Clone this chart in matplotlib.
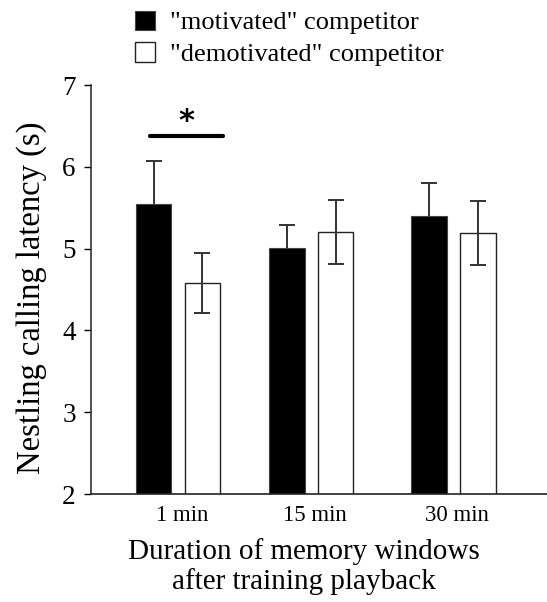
import matplotlib
matplotlib.use('Agg')
import matplotlib.pyplot as plt
import numpy as np

plt.rcParams['font.family'] = ['Liberation Serif', 'DejaVu Serif']

# data
windows = ['1 min', '15 min', '30 min']
motivated = [5.55, 5.01, 5.40]
motivated_se = [0.52, 0.28, 0.40]
demotivated = [4.58, 5.20, 5.19]
demotivated_se = [0.37, 0.39, 0.39]

x = np.array([0, 1, 2.07])
width = 0.27
offset = 0.184

fig = plt.figure(figsize=(5.47, 6.02), dpi=100)
ax = fig.add_axes([0.1664, 0.1794, 0.8336, 0.6794])

err_kw = dict(ecolor='#333333', elinewidth=1.4, capsize=6, capthick=1.4)
# error bars of the black bars sit behind them, so only the upper half shows
ax.errorbar(x - offset, motivated, yerr=motivated_se, fmt='none', zorder=1, **err_kw)
ax.bar(x - offset, motivated, width, color='black', edgecolor='#444444',
       linewidth=0.8, zorder=2, label='"motivated" competitor')
ax.bar(x + offset, demotivated, width, color='white', edgecolor='#222222',
       linewidth=1.0, zorder=2, label='"demotivated" competitor')
ax.errorbar(x + offset, demotivated, yerr=demotivated_se, fmt='none', zorder=3, **err_kw)

# significance marker for 1 min
ax.plot([x[0] - 0.21, x[0] + 0.338], [6.38, 6.38], color='black', lw=3,
        solid_capstyle='round')
ax.text(x[0] + 0.06, 6.38, '*', ha='center', va='bottom', fontsize=22,
        fontweight='bold', family='DejaVu Sans')

ax.set_ylim(2, 7)
ax.set_xlim(-0.654, 2.774)
ax.set_yticks([2, 3, 4, 5, 6, 7])
ax.set_xticks(x + 0.03)
ax.set_xticklabels(windows)
ax.tick_params(axis='y', labelsize=19.5, length=5, width=1, direction='out', pad=6)
ax.tick_params(axis='x', labelsize=16.5, length=0, pad=8)
ax.spines['top'].set_visible(False)
ax.spines['right'].set_visible(False)
ax.spines['left'].set_color('#333333')
ax.spines['bottom'].set_color('#222222')
ax.spines['left'].set_linewidth(1.2)
ax.spines['bottom'].set_linewidth(1.2)

ax.set_ylabel('Nestling calling latency (s)', fontsize=23.5)
ax.yaxis.set_label_coords(-0.097, 0.48)
ax.set_xlabel('Duration of memory windows\nafter training playback', fontsize=21,
              linespacing=1.15)
ax.xaxis.set_label_coords(0.467, -0.108)
ax.xaxis.label.set_va('top')

fig.legend(loc='upper left', bbox_to_anchor=(0.228, 1.0), frameon=False,
           fontsize=19, handlelength=0.75, handleheight=0.75, handletextpad=0.55,
           labelspacing=0.3, borderaxespad=0.0)

fig.savefig('out.png', dpi=100)
